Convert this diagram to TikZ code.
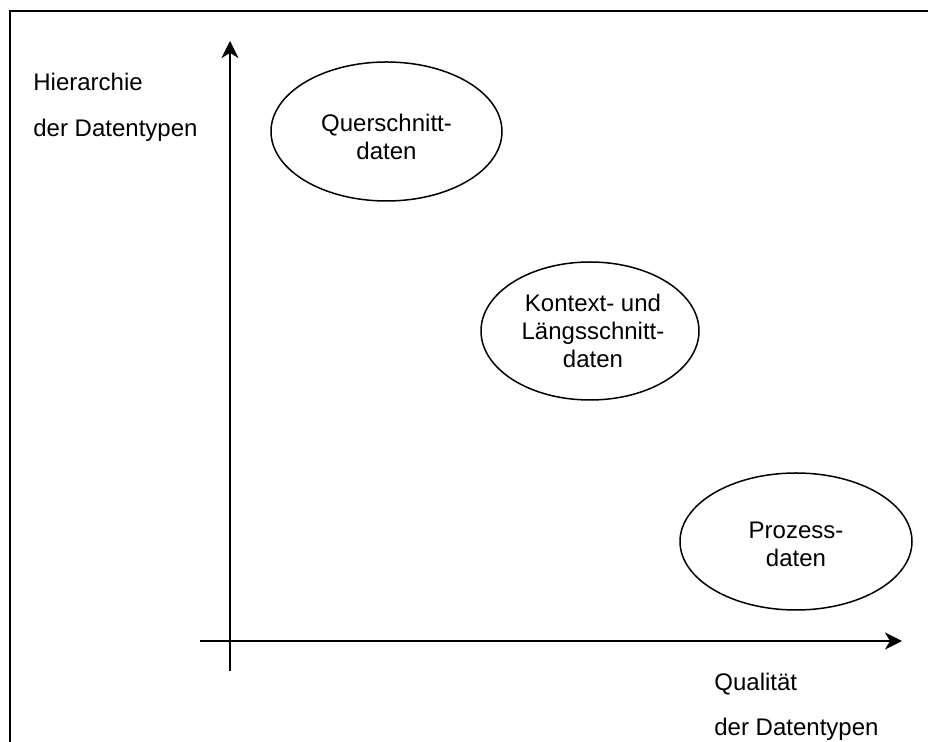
\documentclass[tikz,border=0pt]{standalone}
\usepackage{fontspec}
\setmainfont{Liberation Sans}
\usetikzlibrary{shapes.geometric,arrows.meta}

\begin{document}
\begin{tikzpicture}[x=1pt,y=-1pt,scale=0.50,
    achse/.style={line width=1pt,-{Stealth[length=8.5pt,width=8.5pt,inset=2.5pt]}},
    datum/.style={draw,ellipse,line width=0.75pt,inner sep=0pt},
    schrift/.style={font=\fontsize{12}{14}\selectfont,align=center,inner sep=0pt},
    titel/.style={font=\fontsize{12}{14}\selectfont,anchor=base west,inner sep=0pt}]
    		\useasboundingbox (0,0) rectangle (928,742);
    		\draw[line width=1pt] (10,742) |- (928,11);
    		\coordinate (yunten) at (230,671);
    		\coordinate (yoben) at (230,41);
    		\coordinate (xlinks) at (200,641);
    		\coordinate (xrechts) at (902,641);
    		\draw[achse] (yunten)--(yoben);
    		\draw[achse] (xlinks)--(xrechts);
    		\node (hier1) at (33,91) [titel] {Hierarchie};
    		\node (hier2) at (33,137) [titel] {der Datentypen};
    		\node (qual1) at (714,691) [titel] {Qualität};
    		\node (qual2) at (714,736) [titel] {der Datentypen};
    		\node (quer) at (386.5,131.5) [datum,minimum width=115.5pt,minimum height=69.5pt] {};
    		\node (kont) at (590,331) [datum,minimum width=109pt,minimum height=69pt] {};
    		\node (proz) at (796,541.5) [datum,minimum width=116pt,minimum height=68.5pt] {};
    		\node (quertext) at (386.5,137) [schrift] {Querschnitt-\\daten};
    		\node (konttext) at (593,330.5) [schrift] {Kontext- und\\Längsschnitt-\\daten};
    		\node (prozlabel) at (796,544) [schrift] {Prozess-\\daten};
\end{tikzpicture}
\end{document}
